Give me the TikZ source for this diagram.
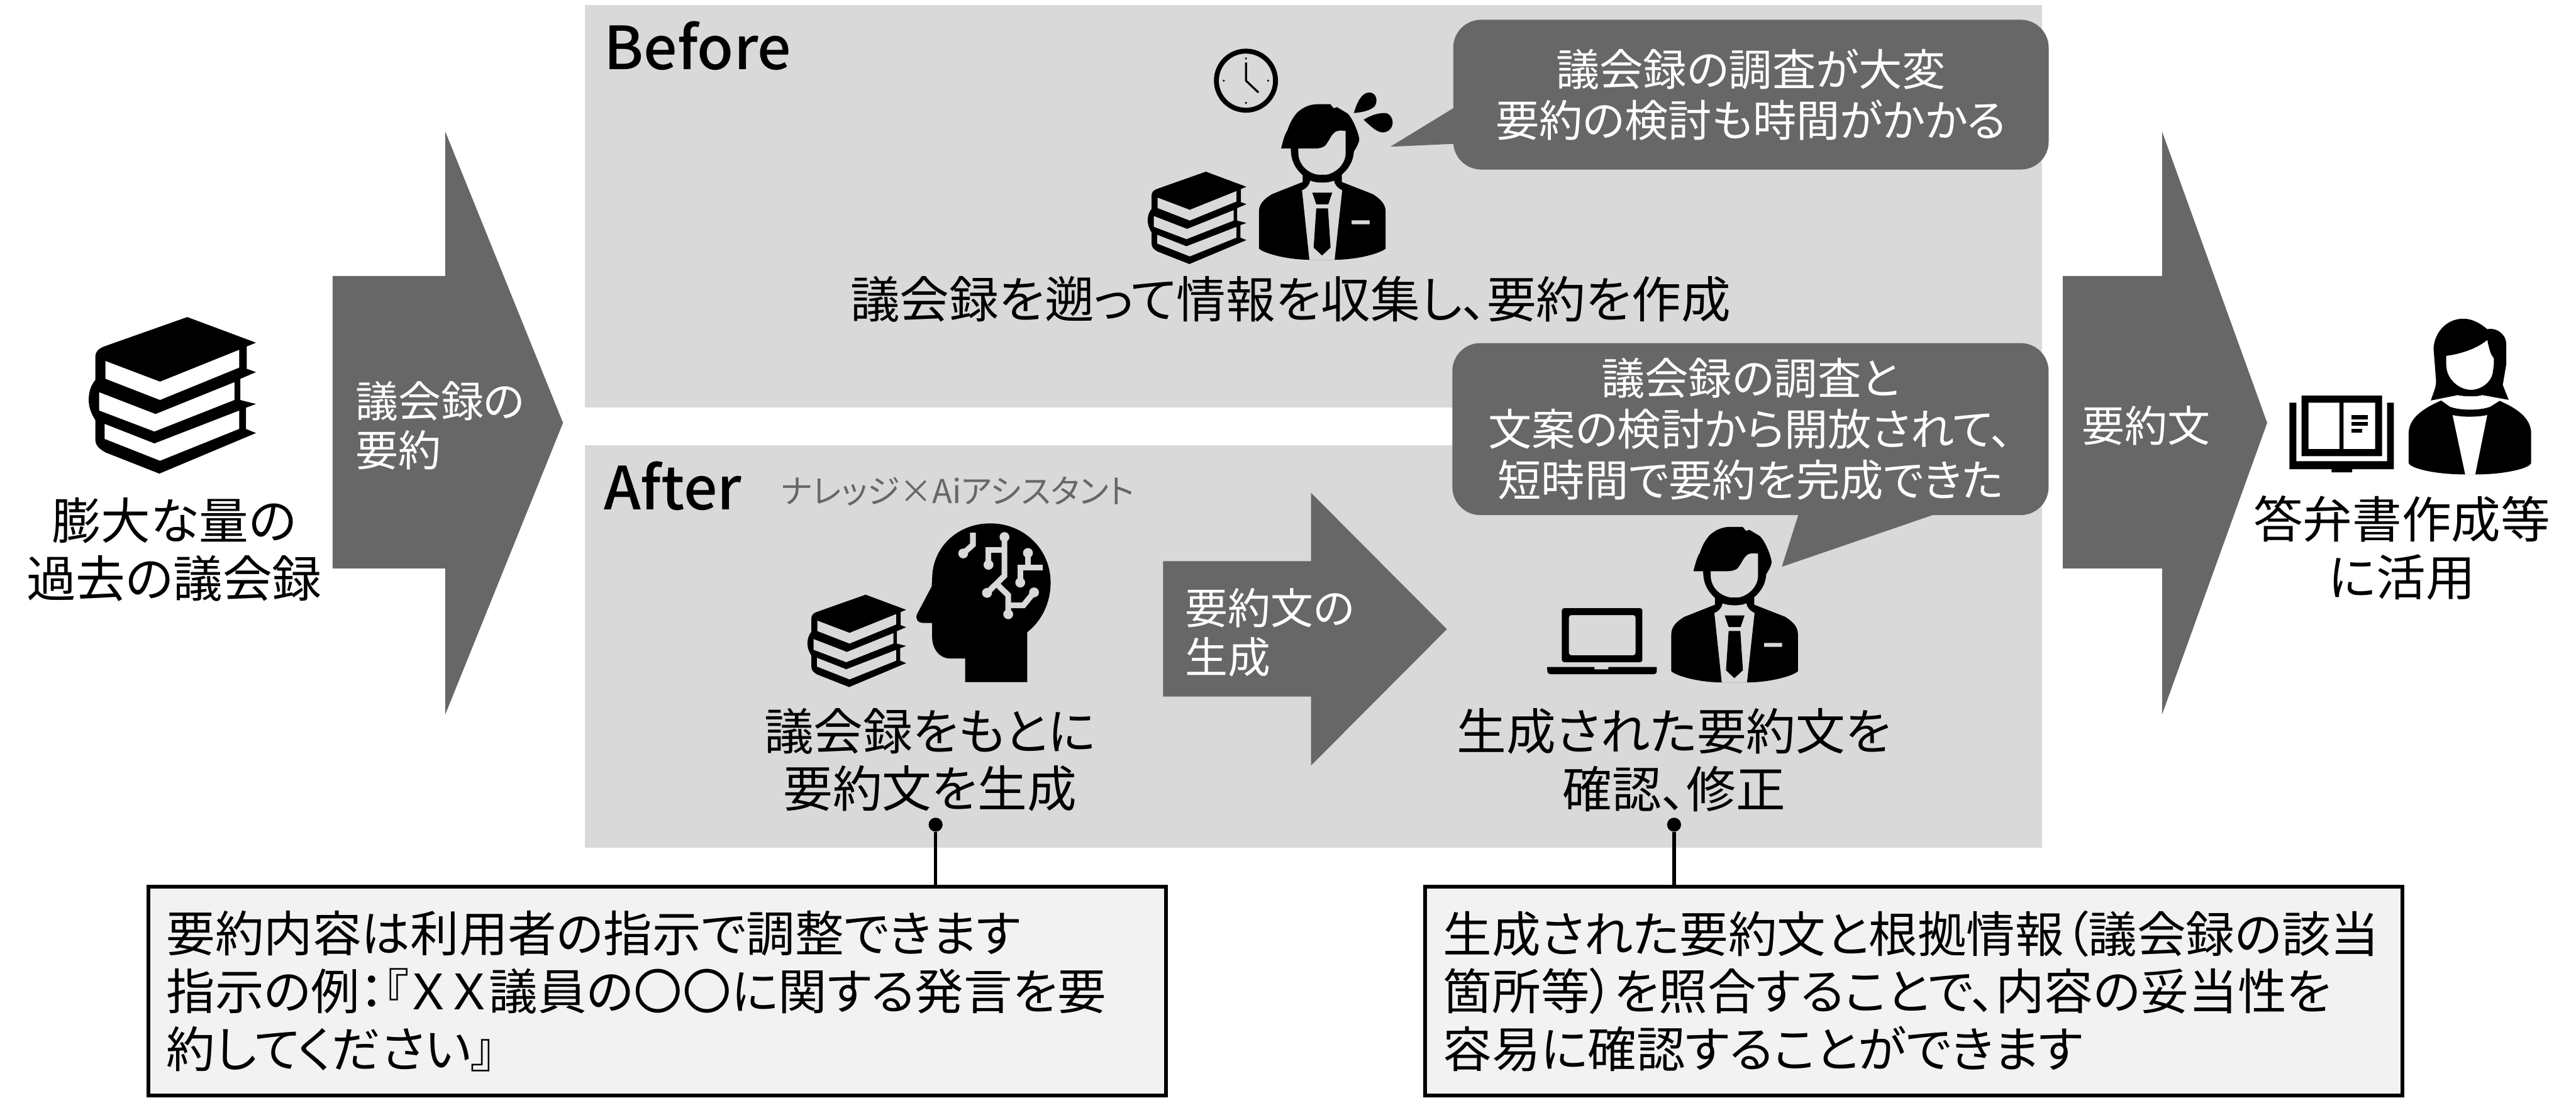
\documentclass[tikz,border=0pt]{standalone}
\usepackage{fontspec}
\setmainfont{Noto Sans CJK JP}[RawFeature=+palt]
\newfontfamily\headfont{Noto Sans CJK JP Medium}
\definecolor{panelgray}{HTML}{D9D9D9}
\definecolor{arrowgray}{HTML}{676767}
\definecolor{notegray}{HTML}{F2F2F2}
\tikzset{
  panelbox/.style={fill=panelgray},
  blockarrow/.style={fill=arrowgray},
  bubblebox/.style={fill=arrowgray,text=white,rounded corners=.34cm,align=center,inner sep=0pt,font=\fontsize{15.1}{17.6}\selectfont},
  labeltext/.style={align=center,inner sep=0pt,font=\fontsize{17.15}{20}\selectfont},
  arrowtext/.style={text=white,anchor=west,align=left,inner sep=0pt,font=\fontsize{14.8}{17}\selectfont},
  headtext/.style={anchor=west,inner sep=0pt,font=\headfont\fontsize{20.6}{24}\selectfont},
  notebox/.style={draw=black,line width=1.4pt,fill=notegray,anchor=north west,align=left,inner xsep=.22cm,inner ysep=0pt,minimum height=2.54cm,outer sep=0pt,font=\fontsize{16.9}{20}\selectfont},
  stemdot/.style={circle,fill=black,inner sep=0pt,minimum size=.17cm},
  stemline/.style={line width=1.2pt},
  circuitline/.style={panelgray,line width=2pt},
  bookstack/.pic={
    \fill[even odd rule] (60,0) -- (101.8,15.6) -- (96.2,17.9) -- (96.2,31.5) -- (101.8,33.5) -- (92.3,37.6) -- (92.3,50.5) -- (101.8,52.9) -- (95.7,55.2) -- (95.7,68.1) -- (101.8,70.6) -- (43,95.3) -- (10.2,82.4) .. controls (6,80) and (4,78) .. (4,74) -- (4,62.7) .. controls (1,58) and (0,54) .. (0,50.5) .. controls (0,46) and (1,42) .. (4,38.3) -- (4,24.7) .. controls (4,21) and (6,19) .. (10.2,17.6) -- cycle
      (10.2,26.7) -- (43.4,39.3) -- (91.6,19.9) -- (91.6,30.8) -- (43.4,50.5) -- (10.2,37.6) -- cycle
      (6.3,45.7) -- (40.7,59) -- (88.7,39.6) -- (88.7,50.5) -- (40,69.7) -- (6.3,56.9) -- cycle
      (9.7,65) -- (40,76.9) -- (91.6,56.9) -- (91.6,68.1) -- (43.4,87.5) -- (9.7,74.2) -- cycle;
  },
  manicon/.pic={
    \fill[even odd rule] (13.5,27.2) .. controls (15,21) and (16,18) .. (17.4,16) .. controls (19,11) and (21,8) .. (23.3,5.3) .. controls (27,2) and (31,.2) .. (36.3,.2) -- (43.4,.2) -- (45.5,2.7) -- (47.5,2) -- (54,5.9) .. controls (57,9) and (60,16) .. (61.1,21.3) .. controls (61,24) and (59,27) .. (57.8,29) .. controls (57.5,32) and (57,36) .. (52.8,40.8) .. controls (48,46) and (43,47.9) .. (38.7,47.9) .. controls (33,47.9) and (29,46) .. (26.2,43.1) .. controls (22,39) and (19.5,35) .. (19.4,27.2) -- cycle
      (24,27.2) -- (33.9,27.2) .. controls (37,27.2) and (39,26.5) .. (40.4,25.4) .. controls (43,22) and (44,19) .. (45.7,17.7) .. controls (47,16.3) and (49,16) .. (52.8,16.5) -- (52.8,30.1) .. controls (52.8,37) and (46,43.4) .. (38.7,43.4) .. controls (30,43.4) and (24,37) .. (24,30.1) -- cycle;
    \fill[even odd rule] (26.6,43.2) -- (50.5,43.2) -- (50.5,47.6) -- (69.4,55) .. controls (74,58) and (77.1,61) .. (77.1,65.6) -- (77.1,88.1) .. controls (74,91) and (60,94.9) .. (46.1,94.9) -- (30.7,94.9) .. controls (17,94.9) and (3,91) .. (0,88.1) -- (0,65.6) .. controls (0,61) and (3,58) .. (7.9,55) -- (26.6,47.6) -- cycle
      (31.2,46.7) .. controls (33,47.6) and (36,47.9) .. (38.7,47.9) .. controls (41,47.9) and (44,47.6) .. (45.7,46.7) .. controls (46,49) and (48,51.5) .. (50.7,52.6) -- (46.1,94.9) -- (30.7,94.9) -- (26.2,52.6) .. controls (29,51.5) and (31,49) .. (31.2,46.7) -- cycle
      (32.5,54.1) -- (44.6,54.1) -- (42.2,61.2) -- (34.9,61.2) -- cycle
      (34.9,63.6) -- (42,63.6) -- (43.6,87.5) -- (38.4,92.3) -- (33.3,87.5) -- cycle
      (56.4,70.9) -- (67.4,70.9) -- (67.4,73.3) -- (56.4,73.3) -- cycle;
  },
}
\begin{document}
\begin{tikzpicture}[x=.02cm,y=-.02cm]
\useasboundingbox (0,0) rectangle (1568,668.2);

\fill[panelbox] (356,3) rectangle (1243,248);
\fill[panelbox] (356,271) rectangle (1243,516);

\fill[blockarrow] (202.5,168) -- (271,168) -- (271,80) -- (342.7,257.4) -- (271,435) -- (271,346) -- (202.5,346) -- cycle;
\fill[blockarrow] (1255.6,168) -- (1316,168) -- (1316,80) -- (1380,257.4) -- (1316,435) -- (1316,346) -- (1255.6,346) -- cycle;
\fill[blockarrow] (708,341.6) -- (798,341.6) -- (798,300) -- (880.7,383) -- (798,466) -- (798,424) -- (708,424) -- cycle;

\fill[arrowgray] (886,65) -- (846.3,89.3) -- (886,87.5) -- cycle;
\fill[arrowgray] (1095.7,310) -- (1084.6,345) -- (1186.7,310) -- cycle;
\node[bubblebox,minimum width=7.25cm,minimum height=1.824cm] (bubblebefore) at (1065.8,57.6) {議会録の調査が大変\\要約の検討も時間がかかる};
\node[bubblebox,minimum width=7.26cm,minimum height=2.094cm] (bubbleafter) at (1065.5,261.2) {議会録の調査と\\文案の検討から開放されて、\\短時間で要約を完成できた};

\node[headtext] (beforehead) at (367.5,28) {Before};
\node[headtext] (afterhead) at (367.5,296) {After};
\node[anchor=west,inner sep=0pt,text=arrowgray,font=\fontsize{11.4}{13}\selectfont] (aftersub) at (475,299) {ナレッジ×Aiアシスタント};

\pic at (54,193) {bookstack};
\pic[scale=.59] at (698.6,104.5) {bookstack};
\pic[scale=.59] at (491.5,362) {bookstack};
\pic at (766.3,63.2) {manicon};
\pic at (1017.3,320.5) {manicon};

\node[draw=black,line width=1.7pt,circle,inner sep=0pt,minimum size=.72cm] (clockface) at (758.4,49.1) {};
\draw[line width=.7pt] (758.4,38) -- (clockface.center) -- (766,56.3);
\foreach \clockangle in {0,90,180,270}
  \fill (clockface.center) ++(\clockangle:13.5) circle (.7);
\fill (824.1,68.8) .. controls (826,62) and (829,56.3) .. (833.5,56.3) .. controls (838,56.3) and (839,62) .. (836.5,65) .. controls (833,67.8) and (828,68.4) .. (824.1,68.8) -- cycle;
\fill (830,72.9) .. controls (834,70.5) and (838,68.8) .. (842.8,68.8) .. controls (846,68.8) and (847.7,72) .. (847.7,74.5) .. controls (847.7,78) and (845,80.6) .. (841.6,80.6) .. controls (838,80.6) and (834,76.5) .. (830,72.9) -- cycle;

\fill[rounded corners=.8,even odd rule] (950.7,370.2) rectangle (999.7,403.1) (955,374.4) rectangle (995.5,398.9);
\fill (941.8,406) -- (970.6,406) -- (970.6,407.4) -- (979,407.4) -- (979,406) -- (1008.5,406) -- (1008.5,408) .. controls (1008.5,409.6) and (1008,410.4) .. (1006,410.4) -- (944.5,410.4) .. controls (942.5,410.4) and (941.8,409.6) .. (941.8,408) -- cycle;

\fill (625.3,415.2) -- (587.5,415.2) -- (587.5,400.8) -- (578,400.8) .. controls (572,400.8) and (567.4,395) .. (567.4,388) -- (567.4,379.2) -- (562.1,379.2) .. controls (558.5,379.2) and (557,376.5) .. (558.2,373.8) -- (567.1,357) -- (567.4,352.3) .. controls (567.4,333) and (583,318.6) .. (602.8,318.6) .. controls (623,318.6) and (639.5,334) .. (639.5,354.7) .. controls (639.5,367) and (634,378) .. (625.3,384.8) -- cycle;
\draw[circuitline] (592.2,324.3) -- (592.2,331.6) -- (586.3,336.9);
\draw[circuitline] (601.7,343.8) -- (601.7,334.8) -- (611.1,334.8);
\draw[circuitline] (611.4,326.9) -- (611.4,350.5) -- (600.8,360.9);
\draw[circuitline] (625.7,336.6) -- (625.7,345.6) -- (621,345.6) -- (621,354.6);
\draw[circuitline] (621,345.6) -- (634.8,345.6);
\draw[circuitline] (607,355.8) -- (613.7,362.3) -- (613.7,373.6);
\draw[circuitline] (613.7,368.5) -- (622.9,368.5) -- (629.4,360.6);
\foreach \nodex/\nodey in {586.3/336.9,601.7/343.8,611.4/326.9,600.8/360.9,625.7/336.6,621/354.6,613.7/373.9,629.4/360.6}
  \fill[panelgray] (\nodex,\nodey) circle (3);

\fill[even odd rule] (1393.6,245.1) -- (1397.8,245.1) -- (1397.8,280.7) -- (1453,280.7) -- (1453,245.1) -- (1457.1,245.1) -- (1457.1,285.6) -- (1431.7,285.6) -- (1431.7,287.5) -- (1419.2,287.5) -- (1419.2,285.6) -- (1393.6,285.6) -- cycle;
\fill[even odd rule] (1400.9,240.8) rectangle (1449.9,277.7) (1405.1,245.1) rectangle (1424,273.4) (1426.5,245.1) rectangle (1445.7,273.4);
\fill (1431.3,252.6) rectangle (1441.1,255.3);
\fill (1431.3,256.7) rectangle (1441.1,259.1);
\fill (1431.3,261.2) rectangle (1438,263.3);

\fill[even odd rule] (1499.4,194) .. controls (1505,194) and (1510,197) .. (1514,200.4) .. controls (1520,199) and (1525.5,204) .. (1525.5,209) -- (1525.5,222) -- (1523.4,234.3) -- (1527,243.4) -- (1511,240.5) .. controls (1508,241.5) and (1500,241.5) .. (1496,240.5) -- (1479.6,243.8) .. controls (1481.5,238) and (1482.8,236) .. (1482.8,231.6) -- (1481.3,212.6) .. controls (1481.3,204) and (1488,194) .. (1499.4,194) -- cycle
  (1489,216.6) .. controls (1498,215.5) and (1508,212) .. (1514,206.9) .. controls (1515,212) and (1516,216) .. (1518,218) -- (1518,222) -- (1517.2,227.5) .. controls (1516,233) and (1510,237.3) .. (1504,237.3) .. controls (1497,237.3) and (1489,231) .. (1489,222) -- cycle;
\fill[even odd rule] (1485.9,243.8) -- (1491.1,247.5) .. controls (1497,250) and (1510,250) .. (1516,247.5) -- (1521.5,244) .. controls (1533,249) and (1540.7,255) .. (1540.7,264) -- (1540.7,281.8) .. controls (1540,285) and (1525,288.8) .. (1506.7,288.8) -- (1500.5,288.8) .. controls (1482,288.8) and (1466.8,285) .. (1466.1,281.8) -- (1466.1,264) .. controls (1466.1,255) and (1474,249) .. (1485.9,243.8) -- cycle
  (1492.8,252.6) .. controls (1498,254) and (1508,254) .. (1514,252.6) -- (1506.7,288.8) -- (1500.5,288.8) -- cycle;

\node[arrowtext] (arrowsummary) at (216,259) {議会録の\\要約};
\node[arrowtext] (arrowgenerate) at (721,385) {要約文の\\生成};
\node[arrowtext] (arrowresult) at (1267,259) {要約文};

\node[labeltext] (labelpast) at (106,334.5) {膨大な量の\\過去の議会録};
\node[labeltext] (labelbefore) at (785.5,182) {議会録を遡って情報を収集し、要約を作成};
\node[labeltext] (labelgenerate) at (566,462.5) {議会録をもとに\\要約文を生成};
\node[labeltext] (labelcheck) at (1019,462.5) {生成された要約文を\\確認、修正};
\node[labeltext] (labeluse) at (1462,333.5) {答弁書作成等\\に活用};

\node[notebox,text width=11.95cm] (noteleft) at (90.3,539.8) {要約内容は利用者の指示で調整できます\\指示の例：『ＸＸ議員の〇〇に関する発言を要\\約してください』\par\vspace{2.8pt}};
\node[notebox,text width=11.46cm] (noteright) at (867.5,539.8) {生成された要約文と根拠情報（議会録の該当\\箇所等）を照合することで、内容の妥当性を\\容易に確認することができます\par\vspace{2.8pt}};

\node[stemdot] (dotleft) at (569.5,502) {};
\node[stemdot] (dotright) at (1019,502) {};
\draw[stemline] (dotleft) -- (dotleft |- noteleft.north);
\draw[stemline] (dotright) -- (dotright |- noteright.north);
\end{tikzpicture}
\end{document}
